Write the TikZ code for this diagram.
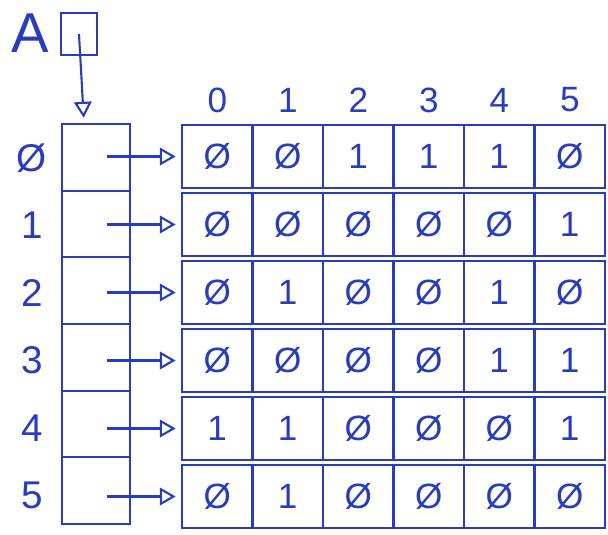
\documentclass[tikz,border=0pt]{standalone}
\usepackage{fontspec}
\setmainfont{Liberation Sans}
\usepackage{xcolor}
\usetikzlibrary{arrows.meta,positioning}
\definecolor{ink}{RGB}{40,60,190}

\begin{document}
\begin{tikzpicture}[x=0.02cm, y=-0.02cm, color=ink, line width=1.2pt,
  cell/.style={draw, minimum width=1.41cm, minimum height=1.26cm, inner sep=0pt,
    font=\fontsize{20}{20}\selectfont},
  slot/.style={draw, minimum width=1.36cm, minimum height=1.333cm, inner sep=0pt},
  ptr/.style={-{Triangle[open, length=9pt, width=10pt]}, shorten >=3pt},
  lbl/.style={font=\fontsize{22}{22}\selectfont}]

  \useasboundingbox (0,0) rectangle (608,534);

  % Head pointer
  \node[font=\fontsize{32}{32}\selectfont] (a) at (30,33) {A};
  \node[draw, minimum width=0.72cm, minimum height=0.84cm] (head) at (79,34) {};

  % Row pointer column
  \foreach \r in {0,...,5} {
    \node[slot] (p\r) at (96, {157.3+66.67*\r}) {};
  }
  \draw[ptr] (head.center) -- ([xshift=-0.24cm]p0.north);

  % Row labels
  \foreach \r/\t in {0/Ø, 1/1, 2/2, 3/3, 4/4, 5/5} {
    \node[lbl] (r\r) at (32, {158+67.5*\r}) {\t};
  }

  % Column labels
  \foreach \c in {0,...,5} {
    \node[font=\fontsize{20}{20}\selectfont] (h\c) at ({217.5+70.5*\c}, 100) {\c};
  }

  % Rows of bits
  \foreach \r/\vals in {0/{Ø,Ø,1,1,1,Ø}, 1/{Ø,Ø,Ø,Ø,Ø,1}, 2/{Ø,1,Ø,Ø,1,Ø},
                        3/{Ø,Ø,Ø,Ø,1,1}, 4/{1,1,Ø,Ø,Ø,1}, 5/{Ø,1,Ø,Ø,Ø,Ø}} {
    \foreach \v [count=\c from 0] in \vals {
      \node[cell] (c\r-\c) at ({217.25+70.5*\c}, {156.5+68*\r}) {\v};
    }
    \draw[ptr] ([xshift=0.22cm]p\r.center |- c\r-0.west) -- (c\r-0.west);
  }
\end{tikzpicture}
\end{document}
